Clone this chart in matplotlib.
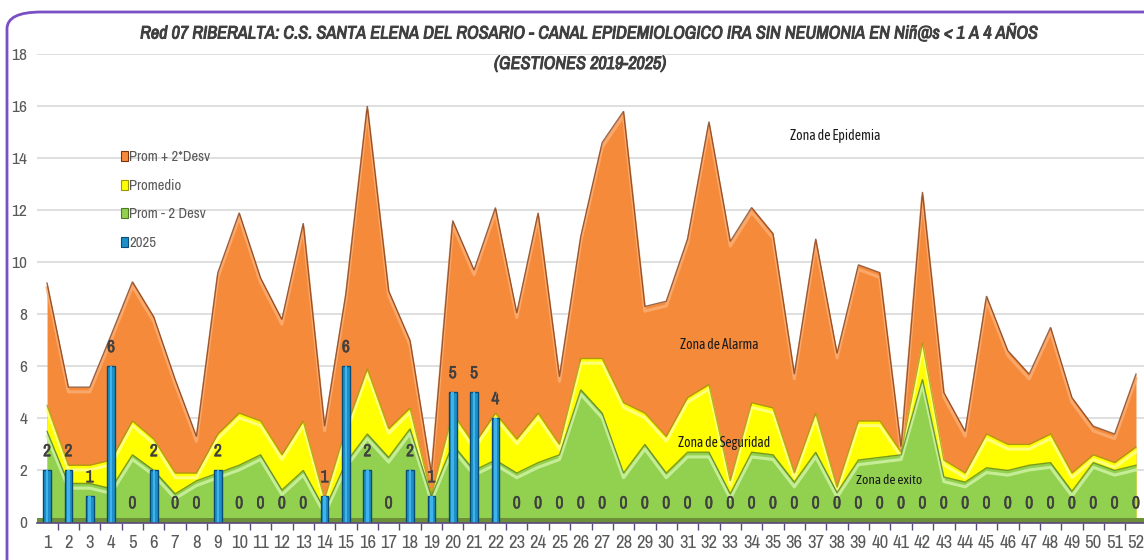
import numpy as np
import matplotlib
matplotlib.use('Agg')
import matplotlib.pyplot as plt
import matplotlib.patheffects as pe
from matplotlib import font_manager
from matplotlib.patches import Patch, FancyBboxPatch

# --- data ---
weeks = list(range(1, 53))
prom_2desv = [9.2, 5.2, 5.2, 7.2, 9.25, 7.9, 5.5, 3.3, 9.6, 11.9,
              9.4, 7.8, 11.5, 3.7, 8.8, 16.0, 8.9, 7.0, 1.9, 11.6,
              9.7, 12.1, 8.05, 11.9, 5.6, 11.0, 14.6, 15.8, 8.3, 8.5,
              10.9, 15.4, 10.8, 12.1, 11.1, 5.7, 10.9, 6.5, 9.9, 9.6,
              2.9, 12.7, 5.0, 3.5, 8.7, 6.6, 5.7, 7.5, 4.8, 3.7,
              3.4, 5.7]
promedio = [4.5, 2.2, 2.2, 2.4, 3.9, 3.2, 1.9, 1.9, 3.4, 4.2,
            3.9, 2.6, 3.9, 0.9, 3.6, 5.9, 3.6, 4.4, 1.05, 4.2,
            3.0, 4.2, 3.2, 4.2, 3.0, 6.3, 6.3, 4.6, 4.2, 3.3,
            4.8, 5.3, 1.6, 4.6, 4.4, 1.9, 4.2, 1.35, 3.9, 3.9,
            2.7, 6.9, 2.4, 1.9, 3.4, 3.0, 3.0, 3.4, 1.9, 2.6,
            2.3, 2.9]
prom_m2desv = [3.5, 1.5, 1.5, 1.3, 2.6, 2.0, 1.1, 1.6, 1.9, 2.2,
               2.6, 1.25, 2.0, 0.5, 2.3, 3.4, 2.5, 3.6, 1.0, 3.0,
               2.0, 2.4, 1.9, 2.3, 2.6, 5.1, 4.2, 1.9, 3.0, 1.9,
               2.7, 2.7, 1.1, 2.7, 2.6, 1.55, 2.7, 1.15, 2.4, 2.5,
               2.6, 5.5, 1.75, 1.55, 2.1, 2.0, 2.2, 2.3, 1.2, 2.3,
               2.0, 2.2]
casos_2025 = [2, 2, 1, 6, 0, 2, 0, 0, 2, 0,
              0, 0, 0, 1, 6, 2, 0, 2, 1, 5,
              5, 4, 0, 0, 0, 0, 0, 0, 0, 0,
              0, 0, 0, 0, 0, 0, 0, 0, 0, 0,
              0, 0, 0, 0, 0, 0, 0, 0, 0, 0,
              0, 0]
legend_labels = ["Prom + 2*Desv", "Promedio", "Prom - 2 Desv", "2025"]
title = ("Red 07 RIBERALTA: C.S. SANTA ELENA DEL ROSARIO - CANAL EPIDEMIOLOGICO "
         "IRA SIN NEUMONIA EN Niñ@s < 1 A 4 AÑOS")
subtitle = "(GESTIONES 2019-2025)"

names = {f.name for f in font_manager.fontManager.ttflist}
NARROW = next((n for n in ['Archivo Narrow', 'Liberation Sans'] if n in names), 'DejaVu Sans')
ZONE = next((n for n in ['Asap Condensed', 'Archivo Narrow', 'Lato'] if n in names), 'DejaVu Sans')

ORANGE, ORANGE_DK, ORANGE_LT = '#F58A3A', '#7A3510', '#FBB077'
YELLOW, YELLOW_DK, YELLOW_LT = '#FFFF00', '#9A9A00', '#FFFF99'
GREEN, GREEN_DK, GREEN_LT = '#92D050', '#4E7A25', '#D3F5A8'
BLUE, BLUE_DK = '#1E90C8', '#0B4A74'
TXT = '#595959'
DARK = '#404040'
title_fx = [pe.withStroke(linewidth=0.7, foreground=DARK)]
label_fx = [pe.withStroke(linewidth=0.4, foreground=DARK)]

W, H = 1144, 560
fig = plt.figure(figsize=(W / 100, H / 100), dpi=100)
fig.patch.set_facecolor('white')
renderer = fig.canvas.get_renderer()


def fit_width(t, px):
    # shrink/grow a text so it spans about px pixels
    w = t.get_window_extent(renderer=renderer).width
    t.set_fontsize(t.get_fontsize() * px / w)


frame = FancyBboxPatch((7 / W, -0.2), 1.2, 0.2 + (H - 12) / H,
                       boxstyle="round,pad=0,rounding_size=0.03",
                       transform=fig.transFigure, fill=False,
                       edgecolor='#7A4FC4', lw=2, zorder=0)
fig.patches.append(frame)

ax = fig.add_axes([37 / W, (H - 522.5) / H, (W - 37) / W, (522.5 - 54) / H])
x = np.array(weeks)
ax.set_xlim(0.53, 52.375)
ax.set_ylim(0, 18)


def area(vals, fill, dark, light, z):
    v = np.array(vals)
    ax.fill_between(x, 0, v, color=fill, lw=0, zorder=z)
    ax.plot(x, v - 0.18, color=light, lw=2.2, alpha=0.8, zorder=z + 0.1,
            solid_joinstyle='round')
    ax.plot(x, v, color=dark, lw=1.0, alpha=0.75, zorder=z + 0.2,
            solid_joinstyle='miter')


area(prom_2desv, ORANGE, ORANGE_DK, ORANGE_LT, 2)
area(promedio, YELLOW, YELLOW_DK, YELLOW_LT, 3)
area(prom_m2desv, GREEN, GREEN_DK, GREEN_LT, 4)
ax.fill_between([0.53, 52.375], 0, 0.18, color='#6E8F3A', lw=0, zorder=4.5)

ax.bar(x, casos_2025, width=0.36, color=BLUE, edgecolor=BLUE_DK, lw=1.0, zorder=6)
ax.bar(x, casos_2025, width=0.12, color='#3FB4EA', lw=0, zorder=6.1)
for xi, c in zip(x, casos_2025):
    ax.text(xi, c + 0.72, str(c), ha='center', va='center', fontsize=12.5,
            color=DARK, family=NARROW, zorder=7, path_effects=label_fx)

ax.set_yticks(range(0, 19, 2))
ax.yaxis.grid(True, color='#D9D9D9', lw=1.2, zorder=0)
ax.set_axisbelow(True)
ax.set_xticks(x)
ax.set_xticks(np.arange(1.5, 52.5, 1), minor=True)
ax.tick_params(axis='x', which='major', length=0, pad=9, labelsize=13.5, labelcolor=TXT)
ax.tick_params(axis='x', which='minor', length=5, color='#5A4A7A', width=1)
ax.tick_params(axis='y', length=0, pad=7, labelsize=12.5, labelcolor=TXT)
for lab in ax.get_xticklabels() + ax.get_yticklabels():
    lab.set_family(NARROW)
for s in ['top', 'right', 'left']:
    ax.spines[s].set_visible(False)
ax.spines['bottom'].set_color('#5A4A7A')
ax.spines['bottom'].set_linewidth(1.2)
ax.spines['bottom'].set_zorder(8)

handles = [Patch(facecolor=c, edgecolor=d, lw=0.8) for c, d in
           [(ORANGE, ORANGE_DK), (YELLOW, YELLOW_DK), (GREEN, GREEN_DK), (BLUE, BLUE_DK)]]
leg = ax.legend(handles, legend_labels, loc='upper left',
                bbox_to_anchor=(108 / W, (H - 137) / H), bbox_transform=fig.transFigure,
                frameon=False, handlelength=0.5, handleheight=0.7, handletextpad=0.05,
                labelspacing=1.0, prop={'family': NARROW, 'size': 10.5})
for t in leg.get_texts():
    t.set_color(TXT)

zone_kw = dict(family=ZONE, fontsize=11, color='#1A1A1A', zorder=9, va='center')
for lbl, wx, vy, px in [("Zona de Epidemia", 35.8, 14.84, 90),
                        ("Zona de Alarma", 30.65, 6.81, 79),
                        ("Zona de Seguridad", 30.55, 3.05, 92),
                        ("Zona de exito", 38.9, 1.63, 66)]:
    t = ax.text(wx, vy, lbl, **zone_kw)
    fit_width(t, px)

t1 = fig.text(588 / W, (H - 32) / H, title, ha='center', va='center', fontsize=15,
              style='italic', color=DARK, family=NARROW, path_effects=title_fx)
fit_width(t1, 898)
t2 = fig.text(580 / W, (H - 64) / H, subtitle, ha='center', va='center',
              fontsize=t1.get_fontsize(), style='italic', color=DARK,
              family=NARROW, path_effects=title_fx)

fig.savefig('out.png', dpi=100)
